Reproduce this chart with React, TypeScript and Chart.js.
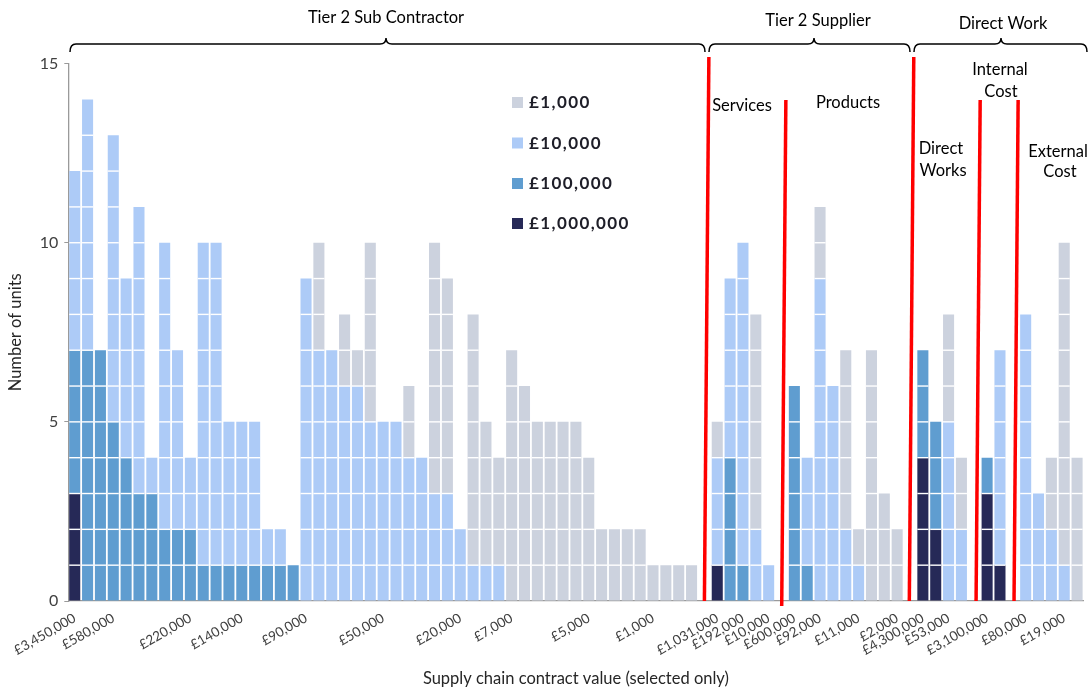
import React, { useEffect, useRef } from 'react';
import { Chart, registerables } from 'chart.js';

Chart.register(...registerables);

// ---- Data ----
const categories: string[] = [
  '£3,450,000', '', '', '£580,000', '', '', '', '', '', '£220,000',
  '', '', '', '£140,000', '', '', '', '', '£90,000', '',
  '', '', '', '', '£50,000', '', '', '', '', '',
  '£20,000', '', '', '', '£7,000', '', '', '', '', '',
  '£5,000', '', '', '', '', '£1,000', '', '', '', '',
  '£1,031,000', '', '£192,000', '', '£10,000', '', '£600,000', '', '£92,000', '',
  '', '£11,000', '', '', '£2,000', '', '£4,300,000', '', '£53,000', '',
  '', '£3,100,000', '', '', '£80,000', '', '', '£19,000', '',
];

// units per bar valued ~£1,000,000
const millionCounts: number[] = [
  3, 0, 0, 0, 0, 0, 0, 0, 0, 0,
  0, 0, 0, 0, 0, 0, 0, 0, 0, 0,
  0, 0, 0, 0, 0, 0, 0, 0, 0, 0,
  0, 0, 0, 0, 0, 0, 0, 0, 0, 0,
  0, 0, 0, 0, 0, 0, 0, 0, 0, 0,
  1, 0, 0, 0, 0, 0, 0, 0, 0, 0,
  0, 0, 0, 0, 0, 0, 4, 2, 0, 0,
  0, 3, 1, 0, 0, 0, 0, 0, 0,
];
// units per bar valued ~£100,000
const hundredKCounts: number[] = [
  4, 7, 7, 5, 4, 3, 3, 2, 2, 2,
  1, 1, 1, 1, 1, 1, 1, 1, 0, 0,
  0, 0, 0, 0, 0, 0, 0, 0, 0, 0,
  0, 0, 0, 0, 0, 0, 0, 0, 0, 0,
  0, 0, 0, 0, 0, 0, 0, 0, 0, 0,
  0, 4, 1, 0, 0, 0, 6, 1, 0, 0,
  0, 0, 0, 0, 0, 0, 3, 3, 0, 0,
  0, 1, 0, 0, 0, 0, 0, 0, 0,
];
// units per bar valued ~£10,000
const tenKCounts: number[] = [
  5, 7, 0, 8, 5, 8, 1, 8, 5, 2,
  9, 9, 4, 4, 4, 1, 1, 0, 9, 7,
  7, 6, 6, 5, 5, 5, 4, 4, 3, 3,
  2, 1, 1, 1, 0, 0, 0, 0, 0, 0,
  0, 0, 0, 0, 0, 0, 0, 0, 0, 0,
  3, 5, 9, 2, 1, 0, 0, 3, 9, 6,
  2, 1, 0, 0, 0, 0, 0, 0, 5, 2,
  0, 0, 6, 0, 8, 3, 2, 1, 0,
];
// units per bar valued ~£1,000
const oneKCounts: number[] = [
  0, 0, 0, 0, 0, 0, 0, 0, 0, 0,
  0, 0, 0, 0, 0, 0, 0, 0, 0, 3,
  0, 2, 1, 5, 0, 0, 2, 0, 7, 6,
  0, 7, 4, 3, 7, 6, 5, 5, 5, 5,
  4, 2, 2, 2, 2, 1, 1, 1, 1, 0,
  1, 0, 0, 6, 0, 0, 0, 0, 2, 0,
  5, 1, 7, 3, 2, 0, 0, 0, 3, 2,
  0, 0, 0, 0, 0, 0, 2, 9, 4,
];

const legendLabels: string[] = ['£1,000', '£10,000', '£100,000', '£1,000,000'];
const groupTitles: string[] = ['Tier 2 Sub Contractor', 'Tier 2 Supplier', 'Direct Work'];
const yTitle = 'Number of units';
const xTitle = 'Supply chain contract value (selected only)';

// ---- Styles ----
const COLORS = {
  navy: '#262957',
  medium: '#5f9dd0',
  light: '#adcbf7',
  grey: '#ccd2de',
};
const FONT = 'Lato, "Open Sans", "DejaVu Sans", sans-serif';

const unitLinesPlugin = {
  id: 'unitLines',
  afterDatasetsDraw(chart: any) {
    const { ctx } = chart;
    const y = chart.scales.y;
    const meta = chart.getDatasetMeta(0);
    ctx.save();
    ctx.strokeStyle = '#ffffff';
    ctx.lineWidth = 1.4;
    for (let i = 0; i < categories.length; i++) {
      const total = millionCounts[i] + hundredKCounts[i] + tenKCounts[i] + oneKCounts[i];
      const el = meta.data[i];
      if (!el) continue;
      const w = el.width;
      for (let k = 1; k < total; k++) {
        const py = y.getPixelForValue(k);
        ctx.beginPath();
        ctx.moveTo(el.x - w / 2, py);
        ctx.lineTo(el.x + w / 2, py);
        ctx.stroke();
      }
    }
    ctx.restore();
  },
};

function drawBrace(ctx: CanvasRenderingContext2D, x0: number, x1: number, cx: number, yb: number) {
  ctx.beginPath();
  ctx.moveTo(x0, yb + 8);
  ctx.quadraticCurveTo(x0, yb, x0 + 6, yb);
  ctx.lineTo(cx - 6, yb);
  ctx.quadraticCurveTo(cx, yb, cx, yb - 6);
  ctx.quadraticCurveTo(cx, yb, cx + 6, yb);
  ctx.lineTo(x1 - 6, yb);
  ctx.quadraticCurveTo(x1, yb, x1, yb + 8);
  ctx.stroke();
}

const annotationsPlugin = {
  id: 'annotations',
  afterDraw(chart: any) {
    const { ctx } = chart;
    const x = chart.scales.x;
    ctx.save();

    // separators
    const seps = [
      { idx: 49, top: 57, bottom: 601, dx: 0 },
      { idx: 55, top: 100, bottom: 606, dx: 0.2 },
      { idx: 65, top: 57, bottom: 601, dx: -0.7 },
      { idx: 70, top: 100, bottom: 601, dx: 1.8 },
      { idx: 73, top: 100, bottom: 601, dx: 1.2 },
    ];
    ctx.strokeStyle = '#ff0000';
    ctx.lineWidth = 3.5;
    ctx.lineCap = 'butt';
    for (const s of seps) {
      const bx = x.getPixelForValue(s.idx) + s.dx;
      const slope = 0.0082;
      ctx.beginPath();
      ctx.moveTo(bx + (s.bottom - s.top) * slope, s.top);
      ctx.lineTo(bx, s.bottom);
      ctx.stroke();
    }

    // braces
    ctx.strokeStyle = '#000000';
    ctx.lineWidth = 1.5;
    drawBrace(ctx, 70, 705, 386, 44);
    drawBrace(ctx, 709, 910, 814, 44);
    drawBrace(ctx, 914, 1087, 1001, 44);

    ctx.fillStyle = '#000000';
    ctx.textAlign = 'center';
    ctx.textBaseline = 'middle';
    ctx.font = `16.5px ${FONT}`;
    ctx.fillText(groupTitles[0], 386, 18);
    ctx.fillText(groupTitles[1], 818, 21);
    ctx.fillText(groupTitles[2], 1003, 24);

    ctx.font = `16.5px ${FONT}`;
    ctx.fillText('Services', 742, 106);
    ctx.fillText('Products', 848, 103);
    ctx.fillText('Direct', 941, 149);
    ctx.fillText('Works', 943, 171);
    ctx.fillText('Internal', 1000, 70);
    ctx.fillText('Cost', 1001, 92);
    ctx.fillText('External', 1058, 152);
    ctx.fillText('Cost', 1060, 172);

    // legend
    const legendColors = [COLORS.grey, COLORS.light, COLORS.medium, COLORS.navy];
    const rows = [102, 142.5, 183, 223];
    ctx.textAlign = 'left';
    ctx.font = `bold 17px ${FONT}`;
    (ctx as any).letterSpacing = '1.4px';
    for (let i = 0; i < legendLabels.length; i++) {
      ctx.fillStyle = legendColors[i];
      ctx.fillRect(512, rows[i] - 5, 11, 11);
      ctx.fillStyle = '#1e1e28';
      ctx.fillText(legendLabels[i], 529, rows[i] + 1);
    }
    ctx.restore();
  },
};

export default function App() {
  const canvasRef = useRef<HTMLCanvasElement | null>(null);

  useEffect(() => {
    document.body.style.margin = '0';
    const canvas = canvasRef.current;
    if (!canvas) return;
    const chart = new Chart(canvas, {
      type: 'bar',
      data: {
        labels: categories,
        datasets: [
          { label: legendLabels[3], data: millionCounts, backgroundColor: COLORS.navy },
          { label: legendLabels[2], data: hundredKCounts, backgroundColor: COLORS.medium },
          { label: legendLabels[1], data: tenKCounts, backgroundColor: COLORS.light },
          { label: legendLabels[0], data: oneKCounts, backgroundColor: COLORS.grey },
        ],
      },
      options: {
        responsive: false,
        animation: false,
        maintainAspectRatio: false,
        layout: { padding: { top: 63.6, right: 6.5, left: 0, bottom: 0 } },
        datasets: {
          bar: { categoryPercentage: 1, barPercentage: 0.86, borderWidth: 0 },
        },
        plugins: {
          legend: { display: false },
          tooltip: { enabled: false },
          title: { display: false },
        },
        scales: {
          x: {
            stacked: true,
            grid: { display: false },
            border: { display: true, color: '#9a9a9a', width: 1.3 },
            ticks: {
              autoSkip: false,
              maxRotation: 30,
              minRotation: 30,
              padding: 1,
              color: '#404040',
              font: { family: FONT, size: 13.5 },
            },
            title: {
              display: true,
              text: xTitle,
              color: '#262626',
              font: { family: FONT, size: 16.5 },
              padding: { top: 0, bottom: 0 },
            },
            afterFit: (s: any) => { s.height = 88; },
          },
          y: {
            stacked: true,
            min: 0,
            max: 15,
            grid: { display: true, drawOnChartArea: false, drawTicks: true, tickLength: 4, color: '#9a9a9a' },
            border: { display: true, color: '#9a9a9a', width: 1.3 },
            ticks: {
              stepSize: 5,
              padding: 6,
              color: '#404040',
              font: { family: FONT, size: 16 },
            },
            title: {
              display: true,
              text: yTitle,
              color: '#262626',
              font: { family: FONT, size: 16.5 },
              padding: { top: 6, bottom: 0 },
            },
            afterFit: (s: any) => { s.width = 68.3; },
          },
        },
      },
      plugins: [unitLinesPlugin, annotationsPlugin],
    });
    return () => chart.destroy();
  }, []);

  return (
    <div style={{ position: 'absolute', left: 0, top: 0, width: 1090, height: 689, background: '#fff' }}>
      <canvas ref={canvasRef} width={1090} height={689} />
    </div>
  );
}
